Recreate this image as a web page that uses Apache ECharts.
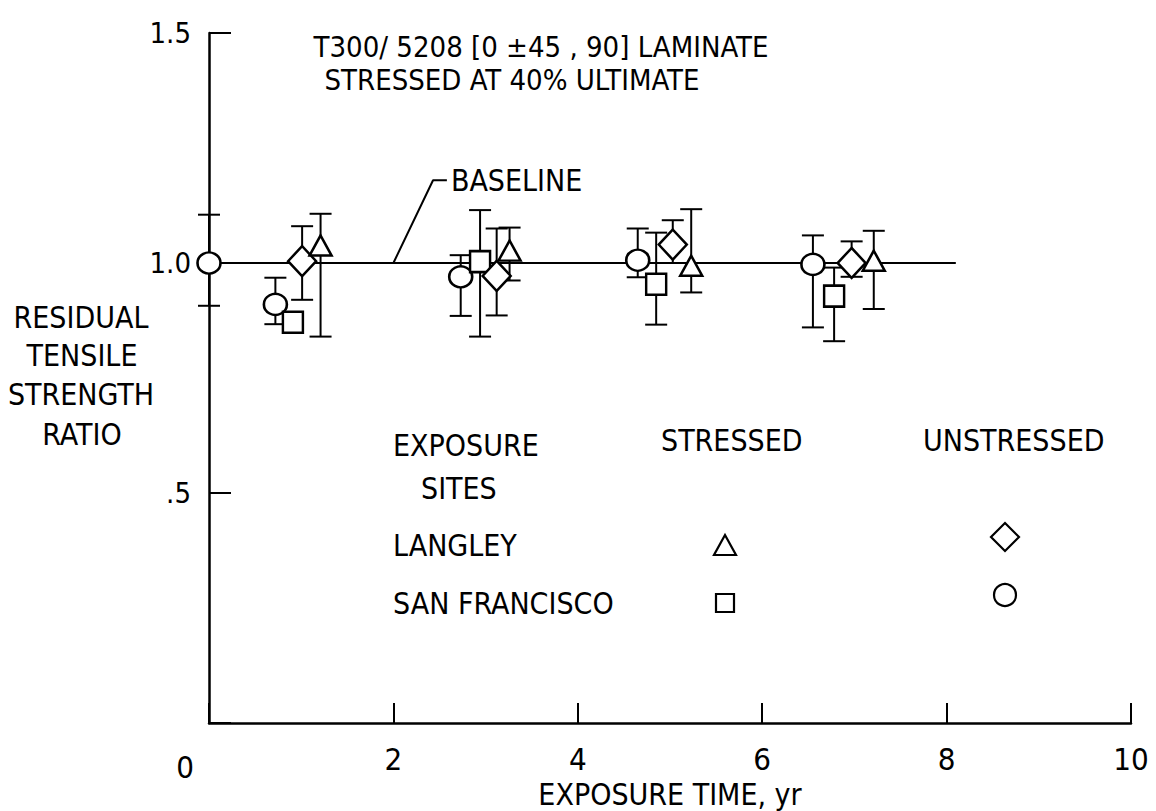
<!DOCTYPE html>
<html>
<head>
<meta charset="utf-8">
<script src="https://cdn.jsdelivr.net/npm/echarts@6/dist/echarts.min.js"></script>
<style>html,body{margin:0;padding:0;background:#fff}#c{width:1156px;height:811px}</style>
</head>
<body>
<div id="c"></div>
<script>
// ---- data (x = exposure time yr, y = ratio, low, high) ----
const xTickValues = [0, 2, 4, 6, 8, 10];
const yTickLabels = {0: '', 0.5: '.5', 1: '1.0', 1.5: '1.5'};
const sfUnstressed = [[0, 1.0, 0.907, 1.105], [0.72, 0.91, 0.867, 0.968], [2.73, 0.97, 0.885, 1.017], [4.65, 1.006, 0.969, 1.075], [6.55, 0.997, 0.86, 1.06]];
const sfStressed = [[0.91, 0.871, null, null], [2.94, 1.003, 0.84, 1.115], [4.85, 0.954, 0.866, 1.066], [6.78, 0.928, 0.83, 0.99]];
const langleyUnstressed = [[1.01, 1.004, 0.92, 1.08], [3.12, 0.972, 0.886, 1.075], [5.03, 1.04, 1.0, 1.093], [6.97, 1.0, 0.97, 1.047]];
const langleyStressed = [[1.21, 1.038, 0.84, 1.107], [3.26, 1.027, 0.962, 1.077], [5.23, 0.994, 0.936, 1.117], [7.21, 1.005, 0.9, 1.07]];
const baseline = [[0, 1.0], [8.1, 1.0]];
const baselineLeader = [[2.0, 1.0], [2.43, 1.18], [2.58, 1.18]];

const FONT = "'Liberation Sans Narrow', 'DejaVu Sans Condensed', sans-serif";
const chart = echarts.init(document.getElementById('c'), null, {renderer: 'svg'});

const allGroups = [sfUnstressed, sfStressed, langleyUnstressed, langleyStressed];
const errData = [];
allGroups.forEach(g => g.forEach(d => { if (d[2] != null) errData.push([d[0], d[2], d[3]]); }));

function renderErr(params, api) {
  const x = api.value(0), lo = api.value(1), hi = api.value(2);
  const p1 = api.coord([x, lo]), p2 = api.coord([x, hi]);
  const w = 11;
  const st = {stroke: '#000', lineWidth: 2};
  return {type: 'group', children: [
    {type: 'line', shape: {x1: p1[0], y1: p1[1], x2: p2[0], y2: p2[1]}, style: st},
    {type: 'line', shape: {x1: p1[0] - w, y1: p1[1], x2: p1[0] + w, y2: p1[1]}, style: st},
    {type: 'line', shape: {x1: p2[0] - w, y1: p2[1], x2: p2[0] + w, y2: p2[1]}, style: st}
  ]};
}

function scatter(name, data, symbol, size) {
  return {
    name, type: 'scatter', data: data.map(d => [d[0], d[1]]), symbol, symbolSize: size, z: 5,
    itemStyle: {color: '#fff', borderColor: '#000', borderWidth: 2.5, opacity: 1}, emphasis: {disabled: true}
  };
}

const txt = (t, x, y, align, size) => ({type: 'text', x, y, style: {text: t, font: (size || 30) + 'px ' + FONT, fill: '#000', textAlign: align || 'left', textVerticalAlign: 'middle'}});
const sym = {fill: '#fff', stroke: '#000', lineWidth: 2.2};

chart.setOption({
  animation: false,
  backgroundColor: '#fff',
  grid: {left: 209, right: 25, top: 33, bottom: 88, containLabel: false, outerBoundsMode: 'none'},
  xAxis: {
    type: 'value', min: 0, max: 10, interval: 2,
    axisLine: {lineStyle: {color: '#000', width: 2.5}},
    axisTick: {inside: true, length: 20, lineStyle: {color: '#000', width: 2}},
    splitLine: {show: false},
    axisLabel: {
      color: '#000', fontFamily: FONT, fontSize: 31, margin: 20,
      formatter: v => v === 0 ? '{z|0}' : String(v),
      rich: {z: {fontFamily: FONT, fontSize: 31, color: '#000', padding: [8, 48, 0, 0]}}
    },
    name: 'EXPOSURE TIME, yr', nameLocation: 'middle', nameGap: 56, nameMoveOverlap: false,
    nameTextStyle: {color: '#000', fontFamily: FONT, fontSize: 30}
  },
  yAxis: {
    type: 'value', min: 0, max: 1.5, interval: 0.5,
    axisLine: {lineStyle: {color: '#000', width: 2.5}},
    axisTick: {inside: true, length: 22, lineStyle: {color: '#000', width: 2}},
    splitLine: {show: false},
    axisLabel: {color: '#000', fontFamily: FONT, fontSize: 29, margin: 18, formatter: v => yTickLabels[v] !== undefined ? yTickLabels[v] : ''}
  },
  graphic: [
    txt('T300/ 5208 [0 ±45 , 90] LAMINATE', 541, 47, 'center', 29),
    txt('STRESSED AT 40% ULTIMATE', 512, 80, 'center', 29),
    txt('RESIDUAL', 81, 317, 'center'),
    txt('TENSILE', 82, 355, 'center'),
    txt('STRENGTH', 81, 394, 'center'),
    txt('RATIO', 82, 434, 'center'),
    txt('EXPOSURE', 393, 445),
    txt('SITES', 421, 488),
    txt('LANGLEY', 393, 545),
    txt('SAN FRANCISCO', 393, 603),
    txt('STRESSED', 661, 440),
    txt('UNSTRESSED', 923, 440),
    {type: 'polygon', shape: {points: [[725, 535], [736, 555], [714, 555]]}, style: sym},
    {type: 'rect', shape: {x: 716, y: 594, width: 18, height: 18}, style: sym},
    {type: 'polygon', shape: {points: [[1005, 523], [1019, 537], [1005, 551], [991, 537]]}, style: sym},
    {type: 'circle', shape: {cx: 1005, cy: 595, r: 11}, style: sym}
  ],
  series: [
    {type: 'line', data: baseline, symbol: 'none', lineStyle: {color: '#000', width: 2}, z: 1, silent: true},
    {type: 'line', data: baselineLeader, symbol: 'none', lineStyle: {color: '#000', width: 2}, z: 1, silent: true,
      endLabel: {show: true, formatter: 'BASELINE', color: '#000', fontFamily: FONT, fontSize: 30, distance: 4}},
    {type: 'custom', data: errData, renderItem: renderErr, z: 2, silent: true},
    scatter('SF unstressed', sfUnstressed, 'circle', [23, 21]),
    scatter('SF stressed', sfStressed, 'rect', [20, 21]),
    scatter('Langley unstressed', langleyUnstressed, 'diamond', [28, 30]),
    scatter('Langley stressed', langleyStressed, 'triangle', [22, 20])
  ]
});
</script>
</body>
</html>
